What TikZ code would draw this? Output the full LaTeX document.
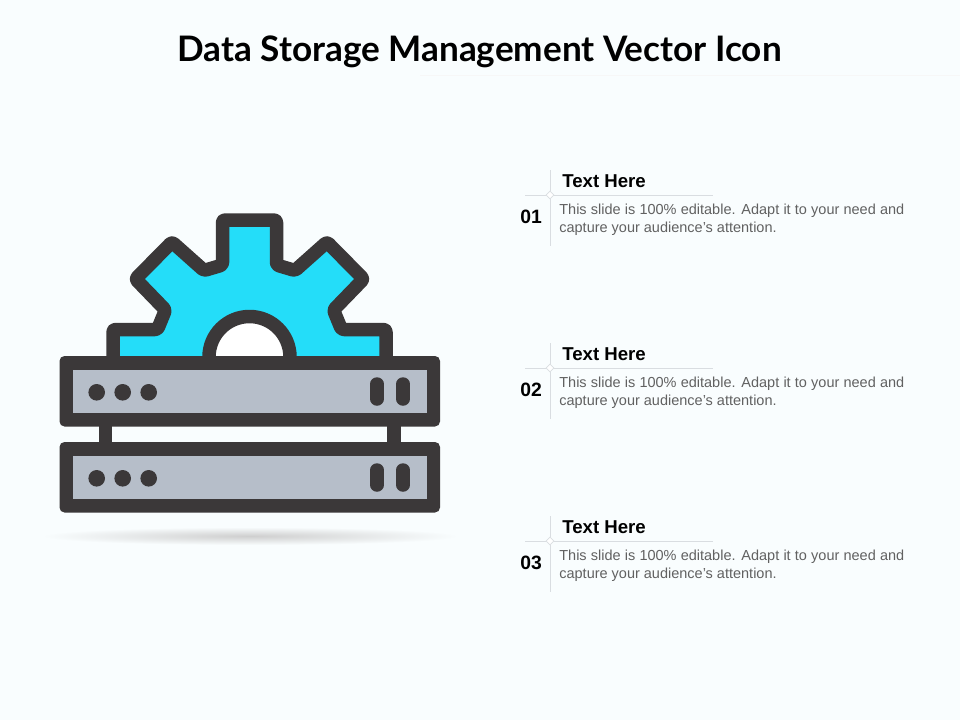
\documentclass[tikz,border=0pt]{standalone}
\usepackage{fontspec}
\setmainfont{Liberation Sans}
\newfontfamily\titlefont{Lato}
\usetikzlibrary{shapes.geometric}
\definecolor{slidebg}{HTML}{F9FDFE}
\definecolor{icondark}{HTML}{3B3839}
\definecolor{geartone}{HTML}{24DDF9}
\definecolor{rackfill}{HTML}{B6BEC9}
\definecolor{ruleline}{HTML}{D9DDE1}
\tikzset{%
	outline/.style  = {draw=icondark, line width=0.27cm, line join=round},
	rackbody/.style = {fill=icondark, rounded corners=0.1cm},
	rackface/.style = {fill=rackfill},
	ledbar/.style   = {line width=0.27cm, line cap=round, draw=icondark},
	heading/.style  = {font=\fontsize{10.6pt}{12pt}\selectfont\bfseries, text=black, inner sep=0pt},
	number/.style   = {font=\fontsize{11pt}{12pt}\selectfont\bfseries, text=black, inner sep=0pt},
	blurb/.style    = {font=\fontsize{8.25pt}{10.2pt}\selectfont, text=black!62, inner sep=0pt, text width=6.9cm, align=justify, anchor=north west},
	crossmark/.style= {draw=ruleline, fill=white, diamond, minimum width=0.16cm, minimum height=0.16cm, inner sep=0pt},
	rule/.style     = {draw=ruleline, line width=0.4pt},
}
\begin{document}
\begin{tikzpicture}[x=0.02cm,y=-0.02cm]
		\useasboundingbox[fill=slidebg] (0,0) rectangle (960,720);
		\node[font=\titlefont\fontsize{20pt}{22pt}\selectfont\bfseries, inner sep=0pt] (title) at (479.5,52) {Data Storage Management Vector Icon};
		\coordinate (ruleL) at (420,75);
		\coordinate (ruleR) at (960,75);
		\draw[draw=black!3, line width=0.4pt] (ruleL) -- (ruleR);
		% shadow
		\shade[inner color=black!19, outer color=slidebg] (250,536) ellipse [x radius=208, y radius=9];
		% gear
		\draw[outline, fill=geartone, rounded corners=0.05cm] (113,362) -- (113,329.5) -- (157.5,329.5) -- (165.5,310) -- (135.5,279) -- (172,242) -- (204,270.5) -- (222.5,265) -- (222.5,220) -- (276.5,220) -- (276.5,265) -- (295,270.5) -- (327,242) -- (363.5,279) -- (333.5,310) -- (341.5,329.5) -- (386,329.5) -- (386,362);
		\draw[outline, fill=white] (209,362) -- (209,357) arc (180:360:40.5) -- (290,362);
		% posts
		\fill[icondark] (99,420) rectangle (112,450);
		\fill[icondark] (387,420) rectangle (400.5,450);
		% racks
		\foreach \r in {0,86}{
			\fill[rackbody] (59.5,356+\r) rectangle (440,426.5+\r);
			\fill[rackface] (72.5,370+\r) rectangle (426.5,413+\r);
			\foreach \x in {96.7,122.7,148.7}
				\fill[icondark] (\x,392.3+\r) circle (8.3);
			\foreach \x in {377,403}
				\draw[ledbar] (\x,384+\r) -- (\x,399+\r);
		}
		% text blocks
		\foreach \n/\y in {01/0,02/173,03/346}{
			\node[crossmark] (cross\n) at (550,195+\y) {};
			\coordinate (up\n) at (550,170+\y);
			\coordinate (down\n) at (550,246+\y);
			\coordinate (left\n) at (525,195+\y);
			\coordinate (right\n) at (713,195+\y);
			\draw[rule] (cross\n) -- (up\n);
			\draw[rule] (cross\n) -- (down\n);
			\draw[rule] (cross\n) -- (left\n);
			\draw[rule] (cross\n) -- (right\n);
			\node[heading, anchor=west] (head\n) at (562,181+\y) {Text Here};
			\node[number] (num\n) at (531,217+\y) {\n};
			\node[blurb] (text\n) at (559,203.5+\y) {This slide is 100\% editable. Adapt it to your need and capture your audience's attention.};
		}
		\end{tikzpicture}
\end{document}
